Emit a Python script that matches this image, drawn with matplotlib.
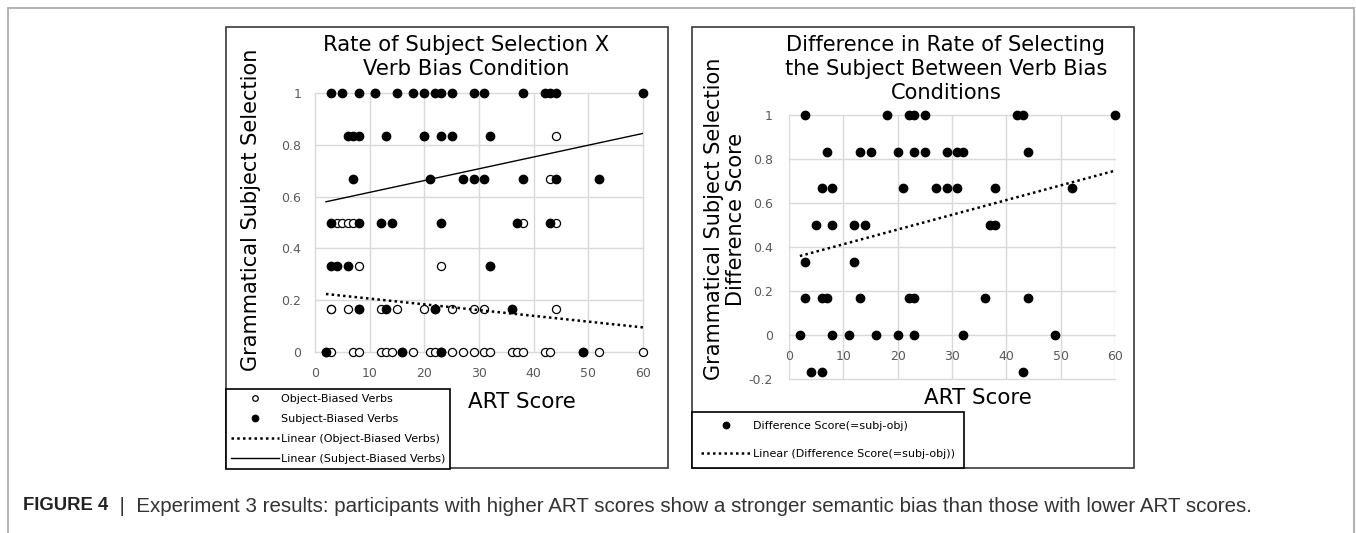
import matplotlib.pyplot as plt
from matplotlib.patches import Rectangle
from matplotlib.lines import Line2D

W, H = 1356, 533

# values: ART score vs share of subject choices
subj_art = [3, 5, 8, 11, 15, 18, 20, 22, 23, 25, 29, 31, 38, 42, 43, 44, 60,
            6, 7, 8, 13, 20, 23, 25, 32,
            7, 21, 27, 29, 31, 38, 44, 52,
            3, 8, 12, 14, 23, 37, 43,
            3, 4, 6, 32,
            8, 13, 22, 36,
            2, 16, 23, 49]
subj_rate = [1.0, 1.0, 1.0, 1.0, 1.0, 1.0, 1.0, 1.0, 1.0, 1.0, 1.0, 1.0, 1.0, 1.0, 1.0, 1.0, 1.0,
             0.833, 0.833, 0.833, 0.833, 0.833, 0.833, 0.833, 0.833,
             0.667, 0.667, 0.667, 0.667, 0.667, 0.667, 0.667, 0.667,
             0.5, 0.5, 0.5, 0.5, 0.5, 0.5, 0.5,
             0.333, 0.333, 0.333, 0.333,
             0.167, 0.167, 0.167, 0.167,
             0.0, 0.0, 0.0, 0.0]

obj_art = [11,
           44, 20,
           43,
           4, 5, 6, 7, 38, 44,
           8, 23, 32,
           3, 3, 6, 8, 12, 15, 20, 22, 25, 29, 31, 44,
           2, 3, 7, 8, 12, 13, 14, 16, 18, 21, 22, 23, 23, 25, 27, 29, 31, 32,
           36, 37, 38, 42, 43, 49, 52, 60]
obj_rate = [1.0,
            0.833, 0.833,
            0.667,
            0.5, 0.5, 0.5, 0.5, 0.5, 0.5,
            0.333, 0.333, 0.333,
            0.167, 0.167, 0.167, 0.167, 0.167, 0.167, 0.167, 0.167, 0.167, 0.167, 0.167, 0.167,
            0.0, 0.0, 0.0, 0.0, 0.0, 0.0, 0.0, 0.0, 0.0, 0.0, 0.0, 0.0, 0.0, 0.0, 0.0, 0.0, 0.0, 0.0,
            0.0, 0.0, 0.0, 0.0, 0.0, 0.0, 0.0, 0.0]

diff_art = [3, 18, 22, 23, 25, 42, 43, 60,
            7, 13, 15, 20, 23, 25, 29, 31, 32, 44,
            6, 8, 21, 27, 29, 31, 38, 52,
            5, 8, 12, 14, 37, 38,
            3, 12,
            3, 6, 7, 13, 22, 23, 36, 44,
            2, 8, 11, 16, 20, 23, 32, 49,
            4, 6, 43]
diff_val = [1.0, 1.0, 1.0, 1.0, 1.0, 1.0, 1.0, 1.0,
            0.833, 0.833, 0.833, 0.833, 0.833, 0.833, 0.833, 0.833, 0.833, 0.833,
            0.667, 0.667, 0.667, 0.667, 0.667, 0.667, 0.667, 0.667,
            0.5, 0.5, 0.5, 0.5, 0.5, 0.5,
            0.333, 0.333,
            0.167, 0.167, 0.167, 0.167, 0.167, 0.167, 0.167, 0.167,
            0.0, 0.0, 0.0, 0.0, 0.0, 0.0, 0.0, 0.0,
            -0.167, -0.167, -0.167]

# linear trend lines as shown (value at lowest and highest ART score)
trend_art = [2, 60]
subj_trend = [0.58, 0.844]
obj_trend = [0.224, 0.095]
diff_trend = [0.359, 0.747]

left_yticks = [0, 0.2, 0.4, 0.6, 0.8, 1]
left_ylabels = ["0", "0.2", "0.4", "0.6", "0.8", "1"]
right_yticks = [-0.2, 0, 0.2, 0.4, 0.6, 0.8, 1]
right_ylabels = ["-0.2", "0", "0.2", "0.4", "0.6", "0.8", "1"]
xticks = [0, 10, 20, 30, 40, 50, 60]

caption = ("Experiment 3 results: participants with higher ART scores show a "
           "stronger semantic bias than those with lower ART scores.")

DOTS = (0, (1, 1.3))
GRID = "#d9d9d9"
TICK = "#595959"


def fx(px):
    return px / W


def fy(py):
    return 1 - py / H


def style(ax, yticks, ylabels, pad_x, pad_y):
    for s in ax.spines.values():
        s.set_visible(False)
    ax.set_xticks(xticks)
    ax.set_xticklabels([str(t) for t in xticks])
    ax.set_yticks(yticks)
    ax.set_yticklabels(ylabels)
    ax.grid(True, color=GRID, lw=1)
    ax.set_axisbelow(True)
    ax.tick_params(axis="x", length=0, labelsize=9, labelcolor=TICK, pad=pad_x)
    ax.tick_params(axis="y", length=0, labelsize=9, labelcolor=TICK, pad=pad_y)
    for gl in ax.get_xgridlines() + ax.get_ygridlines():
        gl.set_clip_on(False)


fig = plt.figure(figsize=(W / 100, H / 100), dpi=100)

# outer frame and the two panel boxes
fig.patches.append(Rectangle((fx(8), fy(560)), (1354 - 8) / W, 552 / H,
                             transform=fig.transFigure, fill=False,
                             edgecolor="#b4b4b4", lw=1.5))
for x0 in (226, 692):
    fig.patches.append(Rectangle((fx(x0), fy(468)), 442 / W, 441 / H,
                                 transform=fig.transFigure, fill=False,
                                 edgecolor="#3a3a3a", lw=1.2))

# left panel
ax1 = fig.add_axes([fx(315), fy(352), 328 / W, 259 / H])
ax1.set_xlim(0, 60)
ax1.set_ylim(0, 1)
style(ax1, left_yticks, left_ylabels, 11, 10)
ax1.scatter(obj_art, obj_rate, s=34, facecolors="white", edgecolors="black",
            linewidths=0.9, zorder=3, clip_on=False)
ax1.scatter(subj_art, subj_rate, s=36, color="black", zorder=4, clip_on=False)
ax1.plot(trend_art, obj_trend, color="black", lw=1.8, ls=DOTS, zorder=5)
ax1.plot(trend_art, subj_trend, color="black", lw=1.0, zorder=5)

# right panel
ax2 = fig.add_axes([fx(789), fy(379), 326 / W, 264 / H])
ax2.set_xlim(0, 60)
ax2.set_ylim(-0.2, 1)
style(ax2, right_yticks, right_ylabels, 11, 11.5)
ax2.spines["bottom"].set_position(("data", 0))
ax2.scatter(diff_art, diff_val, s=36, color="black", zorder=4, clip_on=False)
ax2.plot(trend_art, diff_trend, color="black", lw=1.8, ls=DOTS, zorder=5)

# titles and axis labels
fig.text(fx(466), fy(57), "Rate of Subject Selection X\nVerb Bias Condition",
         ha="center", va="center", fontsize=15.2, linespacing=1.2)
fig.text(fx(946), fy(69),
         "Difference in Rate of Selecting\nthe Subject Between Verb Bias\nConditions",
         ha="center", va="center", fontsize=15.1, linespacing=1.22)
fig.text(fx(251), fy(210), "Grammatical Subject Selection", rotation=90,
         ha="center", va="center", fontsize=15)
fig.text(fx(725), fy(219), "Grammatical Subject Selection\nDifference Score",
         rotation=90, ha="center", va="center", fontsize=15,
         multialignment="center", linespacing=1.13)
fig.text(fx(522), fy(402), "ART Score", ha="center", va="center", fontsize=15.4)
fig.text(fx(978), fy(398), "ART Score", ha="center", va="center", fontsize=15.4)

# legends
h_obj = Line2D([], [], ls="none", marker="o", ms=4, mfc="white", mec="black", mew=0.9)
h_subj = Line2D([], [], ls="none", marker="o", ms=4.6, color="black")
h_dot = Line2D([], [], color="black", lw=1.8, ls=DOTS)
h_line = Line2D([], [], color="black", lw=1.0)
leg1 = fig.legend([h_obj, h_subj, h_dot, h_line],
                  ["Object-Biased Verbs", "Subject-Biased Verbs",
                   "Linear (Object-Biased Verbs)", "Linear (Subject-Biased Verbs)"],
                  loc="upper left", bbox_to_anchor=(fx(226), fy(389)),
                  bbox_transform=fig.transFigure, borderaxespad=0, fancybox=False,
                  edgecolor="black", framealpha=1, fontsize=8, handlelength=4.3,
                  handletextpad=0.2, labelspacing=0.9, borderpad=0.45)
leg1.get_frame().set_linewidth(1.2)
leg2 = fig.legend([h_subj, h_dot],
                  ["Difference Score(=subj-obj)", "Linear (Difference Score(=subj-obj))"],
                  loc="upper left", bbox_to_anchor=(fx(692), fy(412)),
                  bbox_transform=fig.transFigure, borderaxespad=0, fancybox=False,
                  edgecolor="black", framealpha=1, fontsize=8, handlelength=4.5,
                  handletextpad=0.2, labelspacing=1.6, borderpad=0.8)
leg2.get_frame().set_linewidth(1.2)

# caption
t1 = fig.text(fx(23), fy(506), "FIGURE 4", family="Liberation Sans",
              weight="bold", fontsize=13.3, color="#222222", va="center")
ax1.annotate("  |  " + caption, xy=(1, 0.5), xycoords=t1, va="center",
             family="Liberation Sans", fontsize=14.8, color="#333333",
             annotation_clip=False)

fig.savefig("out.png", dpi=100)
